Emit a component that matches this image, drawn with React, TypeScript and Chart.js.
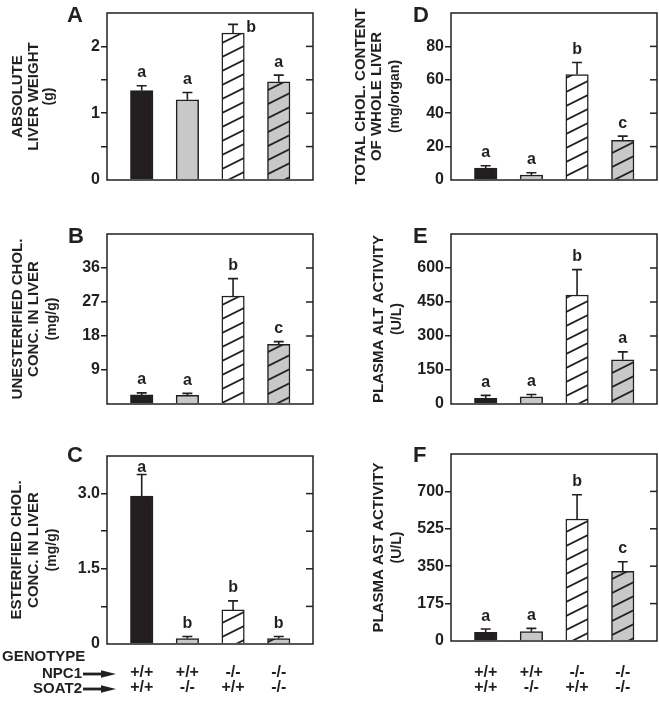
import React, { useEffect, useRef } from 'react';
import { Chart, registerables } from 'chart.js';

Chart.register(...registerables);

// ---------- data ----------
const GROUPS = [0, 1, 2, 3];
const NPC1_LABELS = ['+/+', '+/+', '-/-', '-/-'];
const SOAT2_LABELS = ['+/+', '-/-', '+/+', '-/-'];

const A_MEAN = [1.34, 1.2, 2.2, 1.47];
const A_SEM = [0.07, 0.11, 0.13, 0.1];
const A_LETTERS = ['a', 'a', 'b', 'a'];
const A_TICKS = [0, 1, 2];
const A_TICK_LABELS = ['0', '1', '2'];

const B_MEAN = [2.4, 2.3, 28.6, 15.8];
const B_SEM = [0.55, 0.5, 4.6, 0.7];
const B_LETTERS = ['a', 'a', 'b', 'c'];
const B_TICKS = [9, 18, 27, 36];
const B_TICK_LABELS = ['9', '18', '27', '36'];

const C_MEAN = [2.95, 0.11, 0.68, 0.11];
const C_SEM = [0.43, 0.04, 0.18, 0.04];
const C_LETTERS = ['a', 'b', 'b', 'b'];
const C_TICKS = [0, 1.5, 3];
const C_TICK_LABELS = ['0', '1.5', '3.0'];

const D_MEAN = [7.1, 3.0, 63.1, 23.8];
const D_SEM = [1.4, 1.3, 7.3, 2.5];
const D_LETTERS = ['a', 'a', 'b', 'c'];
const D_TICKS = [0, 20, 40, 60, 80];
const D_TICK_LABELS = ['0', '20', '40', '60', '80'];

const E_MEAN = [25, 32, 481, 195];
const E_SEM = [13, 10, 112, 35];
const E_LETTERS = ['a', 'a', 'b', 'a'];
const E_TICKS = [0, 150, 300, 450, 600];
const E_TICK_LABELS = ['0', '150', '300', '450', '600'];

const F_MEAN = [40, 43.5, 571, 326];
const F_SEM = [16, 15.5, 113, 45];
const F_LETTERS = ['a', 'a', 'b', 'c'];
const F_TICKS = [0, 175, 350, 525, 700];
const F_TICK_LABELS = ['0', '175', '350', '525', '700'];

// ---------- style ----------
const INK = '#231f20';
const GRAY = '#c8c8c8';
const FONT = '"Liberation Sans", Arial, Helvetica, sans-serif';

type PanelCfg = {
  key: string;
  mean: number[];
  sem: number[];
  letters: string[];
  ticks: number[];
  tickLabels: string[];
  yMax: number;
  step: number;
  title: string[];
  unit: string;
  titleX: number[];
  box: { x: number; y: number; w: number; h: number };
  area: { l: number; t: number; r: number; b: number };
  letterPos: [number, number];
  genotype: boolean;
  genotypeLegend: boolean;
  xPad: number;
};

const PANELS: PanelCfg[] = [
  {
    key: 'A', mean: A_MEAN, sem: A_SEM, letters: A_LETTERS, ticks: A_TICKS, tickLabels: A_TICK_LABELS,
    yMax: 2.5, step: 0.5, title: ['ABSOLUTE', 'LIVER WEIGHT'], unit: '(g)', titleX: [18, 34, 49],
    box: { x: 0, y: 0, w: 330, h: 220 }, area: { l: 107, t: 13, r: 313, b: 200 }, letterPos: [67, 22],
    genotype: false, genotypeLegend: false, xPad: 0,
  },
  {
    key: 'B', mean: B_MEAN, sem: B_SEM, letters: B_LETTERS, ticks: B_TICKS, tickLabels: B_TICK_LABELS,
    yMax: 45, step: 9, title: ['UNESTERIFIED CHOL.', 'CONC. IN LIVER'], unit: '(mg/g)', titleX: [17.5, 34, 52.5],
    box: { x: 0, y: 220, w: 330, h: 220 }, area: { l: 107, t: 234, r: 313, b: 422 }, letterPos: [68, 243],
    genotype: false, genotypeLegend: false, xPad: 0,
  },
  {
    key: 'C', mean: C_MEAN, sem: C_SEM, letters: C_LETTERS, ticks: C_TICKS, tickLabels: C_TICK_LABELS,
    yMax: 3.75, step: 0.75, title: ['ESTERIFIED CHOL.', 'CONC. IN LIVER'], unit: '(mg/g)', titleX: [16.5, 34, 52.5],
    box: { x: 0, y: 440, w: 330, h: 263 }, area: { l: 107, t: 456, r: 313, b: 644 }, letterPos: [67, 462],
    genotype: true, genotypeLegend: true, xPad: 21,
  },
  {
    key: 'D', mean: D_MEAN, sem: D_SEM, letters: D_LETTERS, ticks: D_TICKS, tickLabels: D_TICK_LABELS,
    yMax: 100, step: 20, title: ['TOTAL CHOL. CONTENT', 'OF WHOLE LIVER'], unit: '(mg/organ)', titleX: [361, 377, 395.5],
    box: { x: 330, y: 0, w: 329, h: 220 }, area: { l: 451, t: 13, r: 657, b: 200 }, letterPos: [413, 22],
    genotype: false, genotypeLegend: false, xPad: 0,
  },
  {
    key: 'E', mean: E_MEAN, sem: E_SEM, letters: E_LETTERS, ticks: E_TICKS, tickLabels: E_TICK_LABELS,
    yMax: 750, step: 150, title: ['PLASMA ALT ACTIVITY'], unit: '(U/L)', titleX: [379, 397.5],
    box: { x: 330, y: 220, w: 329, h: 220 }, area: { l: 451, t: 234, r: 657, b: 422 }, letterPos: [413, 243],
    genotype: false, genotypeLegend: false, xPad: 0,
  },
  {
    key: 'F', mean: F_MEAN, sem: F_SEM, letters: F_LETTERS, ticks: F_TICKS, tickLabels: F_TICK_LABELS,
    yMax: 875, step: 175, title: ['PLASMA AST ACTIVITY'], unit: '(U/L)', titleX: [379, 397.5],
    box: { x: 330, y: 440, w: 329, h: 263 }, area: { l: 451, t: 454, r: 657, b: 641 }, letterPos: [413, 462],
    genotype: true, genotypeLegend: false, xPad: 24,
  },
];

const Y_AXIS_W = 50;

function makeHatch(bg: string): CanvasPattern | string {
  const c = document.createElement('canvas');
  const w = 28;
  const h = 14;
  c.width = w;
  c.height = h;
  const g = c.getContext('2d');
  if (!g) return bg;
  g.fillStyle = bg;
  g.fillRect(0, 0, w, h);
  g.strokeStyle = INK;
  g.lineWidth = 1.8;
  for (const k of [-1, 0, 1]) {
    g.beginPath();
    g.moveTo(-4, h + 2 + k * h);
    g.lineTo(w + 4, h - (w + 4) / 2 + k * h);
    g.stroke();
  }
  return g.createPattern(c, 'repeat') || bg;
}

function drawArrow(ctx: CanvasRenderingContext2D, x1: number, x2: number, y: number) {
  ctx.save();
  ctx.strokeStyle = INK;
  ctx.fillStyle = INK;
  ctx.lineWidth = 2.8;
  ctx.beginPath();
  ctx.moveTo(x1, y);
  ctx.lineTo(x2 - 10, y);
  ctx.stroke();
  ctx.beginPath();
  ctx.moveTo(x2, y);
  ctx.lineTo(x2 - 15, y - 3.8);
  ctx.lineTo(x2 - 15, y + 3.8);
  ctx.closePath();
  ctx.fill();
  ctx.restore();
}

function Panel({ p }: { p: PanelCfg }) {
  const ref = useRef<HTMLCanvasElement>(null);

  useEffect(() => {
    const canvas = ref.current;
    if (!canvas) return;
    const hatchWhite = makeHatch('#ffffff');
    const hatchGray = makeHatch(GRAY);
    const ox = p.box.x;
    const oy = p.box.y;
    const xAxisH = p.box.y + p.box.h - p.area.b;

    const decor = {
      id: 'decor' + p.key,
      afterDatasetsDraw(chart: any) {
        const ctx: CanvasRenderingContext2D = chart.ctx;
        const ca = chart.chartArea;
        const ys = chart.scales.y;
        const meta = chart.getDatasetMeta(0);
        ctx.save();
        // error bars and letters
        meta.data.forEach((bar: any, i: number) => {
          const x = bar.x;
          const yMean = ys.getPixelForValue(p.mean[i]);
          const yTop = ys.getPixelForValue(p.mean[i] + p.sem[i]);
          ctx.strokeStyle = INK;
          ctx.lineWidth = 1.6;
          ctx.beginPath();
          ctx.moveTo(x, yMean);
          ctx.lineTo(x, yTop);
          ctx.moveTo(x - 5, yTop);
          ctx.lineTo(x + 5, yTop);
          ctx.stroke();

          ctx.fillStyle = INK;
          ctx.font = `bold 16px ${FONT}`;
          ctx.textBaseline = 'alphabetic';
          const gap = yTop - ca.top;
          if (gap < 16) {
            ctx.textAlign = 'left';
            ctx.fillText(p.letters[i], x + bar.width / 2 + 2, yTop + 8);
          } else if (gap < 24) {
            ctx.textAlign = 'center';
            ctx.fillText(p.letters[i], x, yTop - 3);
          } else {
            ctx.textAlign = 'center';
            ctx.fillText(p.letters[i], x, yTop - 8.5);
          }
        });
        // frame
        ctx.strokeStyle = INK;
        ctx.lineWidth = 1.5;
        ctx.strokeRect(ca.left, ca.top, ca.right - ca.left, ca.bottom - ca.top);
        // inner ticks on the right
        ys.ticks.forEach((t: any) => {
          if (t.value <= 1e-9 || t.value >= p.yMax - 1e-9) return;
          const py = ys.getPixelForValue(t.value);
          ctx.beginPath();
          ctx.moveTo(ca.right - 7, py);
          ctx.lineTo(ca.right, py);
          ctx.stroke();
        });
        // panel letter
        ctx.fillStyle = INK;
        ctx.font = `bold 22px ${FONT}`;
        ctx.textAlign = 'left';
        ctx.textBaseline = 'alphabetic';
        ctx.fillText(p.key, p.letterPos[0] - ox, p.letterPos[1] - oy);
        // axis title (rotated)
        const cy = (ca.top + ca.bottom) / 2;
        const lines = [...p.title, p.unit];
        lines.forEach((line, i) => {
          ctx.save();
          ctx.translate(p.titleX[i] - ox, cy);
          ctx.rotate(-Math.PI / 2);
          ctx.textAlign = 'center';
          ctx.textBaseline = 'middle';
          ctx.font = i === lines.length - 1 ? `bold 14px ${FONT}` : `bold 15px ${FONT}`;
          ctx.fillText(line, 0, 0);
          ctx.restore();
        });
        // genotype legend
        if (p.genotypeLegend) {
          ctx.font = `bold 15px ${FONT}`;
          ctx.textAlign = 'left';
          ctx.textBaseline = 'alphabetic';
          ctx.fillText('GENOTYPE', 2 - ox, 661 - oy);
          ctx.textAlign = 'right';
          ctx.textBaseline = 'middle';
          ctx.fillText('NPC1', 82 - ox, 673.5 - oy);
          ctx.fillText('SOAT2', 82 - ox, 688.5 - oy);
          drawArrow(ctx, 83 - ox, 116 - ox, 674 - oy);
          drawArrow(ctx, 83 - ox, 116 - ox, 689 - oy);
        }
        ctx.restore();
      },
    };

    const chart = new Chart(canvas, {
      type: 'bar',
      data: {
        datasets: [
          {
            data: GROUPS.map((g) => ({ x: g, y: p.mean[g] })),
            backgroundColor: [INK, GRAY, hatchWhite, hatchGray] as any,
            borderColor: INK,
            borderWidth: 1.5,
            barThickness: 22.5,
          },
        ],
      },
      options: {
        responsive: false,
        animation: false,
        events: [],
        layout: {
          padding: {
            left: p.area.l - ox - Y_AXIS_W,
            top: p.area.t - oy,
            right: ox + p.box.w - p.area.r,
            bottom: p.genotype ? 0 : xAxisH,
          },
        },
        plugins: { legend: { display: false }, tooltip: { enabled: false } },
        scales: {
          x: {
            type: 'linear',
            min: -0.76,
            max: 3.75,
            offset: false,
            display: p.genotype,
            grid: { display: false, drawTicks: false },
            border: { display: false },
            afterBuildTicks: (s: any) => {
              s.ticks = GROUPS.map((v) => ({ value: v }));
            },
            afterFit: (s: any) => {
              s.height = xAxisH;
            },
            ticks: {
              autoSkip: false,
              maxRotation: 0,
              minRotation: 0,
              padding: p.xPad,
              color: INK,
              font: { family: FONT, size: 16, weight: 'bold', lineHeight: '15px' } as any,
              callback: (v: any) => [NPC1_LABELS[Number(v)], SOAT2_LABELS[Number(v)]],
            },
          },
          y: {
            type: 'linear',
            min: 0,
            max: p.yMax,
            border: { display: false },
            grid: {
              display: true,
              drawOnChartArea: false,
              drawTicks: true,
              tickLength: 6,
              lineWidth: 1.5,
              color: (c: any) =>
                c.tick && (c.tick.value <= 1e-9 || c.tick.value >= p.yMax - 1e-9) ? 'rgba(0,0,0,0)' : INK,
            },
            afterFit: (s: any) => {
              s.width = Y_AXIS_W;
            },
            ticks: {
              stepSize: p.step,
              autoSkip: false,
              padding: 1,
              color: INK,
              font: { family: FONT, size: 16, weight: 'bold' } as any,
              callback: (v: any) => {
                const idx = p.ticks.findIndex((t) => Math.abs(t - Number(v)) < 1e-6);
                return idx >= 0 ? p.tickLabels[idx] : '';
              },
            },
          },
        },
      } as any,
      plugins: [decor as any],
    });
    return () => chart.destroy();
  }, [p]);

  return (
    <canvas
      ref={ref}
      width={p.box.w}
      height={p.box.h}
      style={{ position: 'absolute', left: p.box.x, top: p.box.y, width: p.box.w, height: p.box.h }}
    />
  );
}

export default function App() {
  return (
    <div style={{ position: 'absolute', left: 0, top: 0, width: 659, height: 703, background: '#ffffff', overflow: 'hidden' }}>
      {PANELS.map((p) => (
        <Panel key={p.key} p={p} />
      ))}
    </div>
  );
}
